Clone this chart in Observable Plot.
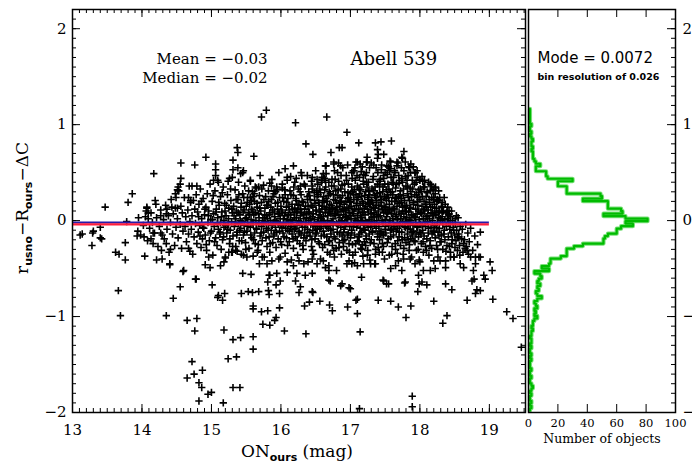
<!DOCTYPE html>
<html><head><meta charset="utf-8">
<script src="https://cdn.jsdelivr.net/npm/d3@7"></script>
<script src="https://cdn.jsdelivr.net/npm/@observablehq/plot@0.6"></script>
<style>
body{margin:0;background:#fff}
#chart{position:relative;width:692px;height:466px;overflow:hidden;background:#fff}
#chart svg{position:absolute;top:0}
</style></head><body><div id="chart"></div>
<script>
// ---------- data ----------
const xMajor = [13, 14, 15, 16, 17, 18, 19];
const yMajor = [-2, -1, 0, 1, 2];
const countTicks = [0, 20, 40, 60, 80, 100];
const meanValue = -0.03;
const medianValue = -0.02;
const modeValue = 0.0072;
const binWidth = 0.026;
const meanLineRange = [13, 19];
const firstBinEdge = -1.9818;
const clusterName = "Abell 539";

// histogram counts, bins of 0.026 from -1.98 upward
const binCounts = [
  1,2,1,2,1,1,2,1,2,3,2,1,1,2,1,1,2,1,1,1,2,1,2,1,1,2,1,2,2,1,2,2,3,2,3,
  3,4,6,4,5,4,6,5,4,6,9,6,5,7,6,8,6,7,9,8,4,14,
  9,14,15,15,22,26,26,26,31,37,51,51,52,54,60,60,63,71,66,
  81,66,51,64,63,54,54,54,37,50,49,26,26,26,20,20,30,13,12,12,
  5,5,8,5,4,3,3,3,2,3,2,2,3,2,1,2,1,1,2,1,1,1,1,1,1
];

// individually readable (outlying) points: [mag, residual]
const sparsePoints = [
  [15.72,1.08],[15.79,1.15],[16.21,1.02],[16.66,1.08],[16.95,0.92],[16.36,0.80],[16.46,0.69],[16.72,0.71],[16.84,0.76],[16.88,0.76],
  [15.37,0.76],[15.38,0.71],[15.31,0.63],[14.92,0.66],[15.61,0.67],[15.06,0.59],[15.06,0.53],[14.56,0.60],[14.76,0.58],[14.17,0.49],
  [15.06,0.47],[15.31,0.53],[15.38,0.55],[15.45,0.50],[13.86,0.28],[13.80,0.19],[13.47,0.14],[14.20,0.17],[14.07,0.13],[14.09,0.08],
  [14.56,0.44],[14.55,0.38],[13.78,-0.01],[13.40,-0.07],[13.30,-0.11],[13.14,-0.14],
  [17.12,0.81],[17.36,0.81],[17.44,0.82],[17.59,0.83],[17.39,0.74],[17.40,0.69],[17.48,0.69],[17.77,0.72],[17.75,0.65],[17.87,0.59],
  [17.96,0.52],[18.22,0.34],[18.32,0.19],[18.42,0.07],[18.51,0.02],[17.24,0.66],[17.23,0.61],[17.10,0.61],[16.64,0.57],[16.76,0.59],[16.83,0.60],
  [15.97,0.50],[16.06,0.54],[16.18,0.57],[16.29,0.50],[16.65,0.57],[14.52,0.35],[14.51,0.32],[14.48,0.28],[14.49,0.24],[14.72,0.36],[14.79,0.36],
  [14.07,0.14],[14.06,0.10],
  [15.46,0.52],[15.42,0.49],[15.30,0.45],[15.24,0.41],[15.03,0.42],[15.10,0.40],[14.67,0.24],[14.70,0.21],[15.56,0.42],[15.63,0.35],
  [15.68,0.35],[15.84,0.39],[15.90,0.31],[15.95,0.32],[16.02,0.34],[16.09,0.42],[16.14,0.46],[16.22,0.44],[16.28,0.36],[16.38,0.47],
  [16.45,0.45],[16.52,0.43],[16.59,0.42],
  [16.76,0.61],[16.86,0.57],[17.02,0.50],[17.05,0.52],[17.14,0.59],[17.24,0.61],[17.55,0.56],[17.58,0.61],[17.67,0.61],[17.74,0.66],
  [17.84,0.56],[17.93,0.50],[18.00,0.42],[18.05,0.35],[18.15,0.31],[18.20,0.24],[18.27,0.21],[18.32,0.14],[18.39,0.10],[16.61,0.49],[16.64,0.42],
  [13.11,-0.15],[13.28,-0.26],[13.40,-0.18],[13.42,-0.19],[13.76,-0.23],[13.62,-0.33],[13.67,-0.35],[13.76,-0.41],[13.66,-0.73],[13.69,-0.99],
  [14.04,-0.37],[14.16,-0.24],[14.21,-0.41],[14.29,-0.40],[14.40,-0.46],[14.28,-0.31],[14.35,-0.99],[14.45,-0.81],[14.55,-0.69],[14.59,-0.53],
  [14.67,-0.29],[14.69,-0.32],[14.78,-0.61],[14.65,-1.04],[14.79,-1.02],[14.76,-1.15],[14.72,-1.47],[14.65,-1.64],[14.75,-1.60],[14.87,-1.56],
  [14.82,-1.69],[14.86,-1.74],[14.82,-1.88],[14.95,-1.81],[15.00,-1.79],[15.17,-1.90],[15.31,-1.74],[15.41,-1.74],[15.24,-1.44],[15.36,-1.42],
  [15.31,-1.24],[15.42,-1.22],[15.60,-1.21],[15.60,-1.34],[15.18,-1.14],[15.01,-0.67],[15.10,-0.78],[15.16,-0.83],[15.19,-0.76],[14.98,-0.49],
  [15.43,-0.76],[15.53,-0.74],[15.68,-0.74],[15.83,-0.77],[15.98,-0.76],[15.60,-0.89],[15.60,-0.92],[15.72,-0.95],[15.74,-1.08],[15.81,-0.94],
  [15.84,-1.09],[15.91,-1.04],[15.93,-1.01],[15.98,-0.91],[16.05,-1.15],[16.36,-1.18],[16.34,-0.89],[16.41,-0.85],[16.46,-0.75],[16.56,-0.84],
  [16.70,-0.88],[16.74,-0.94],[16.96,-0.90],[16.86,-0.68],[16.69,-0.62],
  [17.14,-1.16],[17.10,-0.97],[17.08,-0.83],[17.10,-0.82],[16.98,-0.70],[17.40,-0.83],[17.58,-0.84],[17.69,-0.90],[17.87,-0.89],[17.80,-1.01],
  [17.47,-0.62],[17.52,-0.66],[17.78,-0.65],[17.97,-0.74],[17.99,-0.66],[18.10,-0.67],[18.20,-0.84],[18.33,-1.07],[18.39,-0.99],[18.37,-0.66],
  [18.46,-0.72],[18.68,-0.83],[18.80,-0.76],[18.82,-0.72],[18.87,-0.73],[19.05,-0.82],[18.75,-0.63],[18.78,-0.61],[18.92,-0.57],[18.94,-0.61],
  [19.01,-0.43],[19.04,-0.52],[18.77,-0.52],[18.80,-0.45],[18.85,-0.38],[19.25,-0.95],[19.34,-1.02],[19.46,-1.32],[17.89,-1.83],[17.89,-1.94],
  [17.13,-1.96],[17.16,-0.59],
  [18.56,-0.17],[18.63,-0.24],[18.65,-0.29],[18.73,-0.38],[18.80,-0.38],[18.87,-0.38],
  [14.91,-0.46],[15.09,-0.80],[15.45,-0.55],[15.57,-0.56],[15.69,-0.45],[15.81,-0.64],[15.83,-0.57],[15.93,-0.67],[16.26,-0.75],[16.45,-0.74],
  [14.96,-0.38],[15.13,-0.47],[15.18,-0.43],[15.20,-0.38],[15.30,-0.33],[15.35,-0.31],[13.29,-0.13],[13.95,0.03],[13.94,-0.11],[13.98,-0.15],
  [14.03,-0.17],[13.93,-0.16],[14.13,-0.19],[14.16,-0.13],[14.27,-0.13],[14.27,0.05],[14.35,0.07],[14.36,0.12],[14.43,0.14],[14.51,0.13],
  [14.35,-0.24],[14.41,-0.30],[14.40,-0.45],[14.60,-0.52],[14.77,-0.61],[15.56,0.24],[15.60,0.25],
  [16.64,-0.49],[16.69,-0.52],[16.80,-0.52],[16.71,-0.63],[16.88,-0.66],[17.00,-0.71],[16.95,-0.45],[17.02,-0.45],[17.10,-0.47],[17.19,-0.45],
  [17.29,-0.45],[17.36,-0.45],[17.48,-0.63],[17.55,-0.66],[17.58,-0.50],[17.65,-0.47],[17.74,-0.52],[17.79,-0.64],[17.86,-0.40],[17.93,-0.45],
  [18.00,-0.43],[18.05,-0.52],[17.98,-0.57],[18.03,-0.64],[18.15,-0.52],[18.22,-0.50],[18.29,-0.42],[18.37,-0.49],[18.44,-0.38],[18.49,-0.38],
  [18.58,-0.45],[18.63,-0.49],[18.68,-0.31],[18.70,-0.35],
  [15.25,-0.33],[15.37,-0.32],[15.46,-0.36],[15.51,-0.38],[15.66,-0.33],[15.73,-0.38],[15.80,-0.45],[15.87,-0.42],[15.99,-0.38],[16.09,-0.43],
  [16.18,-0.47],[16.26,-0.42],[16.33,-0.45],[16.45,-0.40],[16.52,-0.45],[16.61,-0.42],[16.69,-0.47],
  [15.84,-0.57],[15.94,-0.55],[16.09,-0.54],[16.23,-0.55],[16.35,-0.57],[16.45,-0.55],[15.59,-0.75],[15.82,-0.73],[15.99,-0.63],[16.21,-0.63],[16.28,-0.69]
];

// dense core of the cloud (estimated positions): [mag, residual]
const densePoints = [
  [14.02,-0.05],[14.05,0.04],[14.08,-0.21],[14.09,0.02],[14.11,-0.08],[14.13,0.08],[14.15,-0.02],[14.18,-0.13],[14.19,0.21],
  [14.21,0.03],[14.23,-0.27],[14.25,-0.06],[14.27,0.11],[14.29,-0.15],[14.31,0.01],[14.32,-0.19],[14.34,0.16],[14.36,-0.09],[14.38,0.05],[14.39,-0.33],
  [14.41,-0.02],[14.42,0.22],[14.44,-0.14],[14.45,0.07],[14.47,-0.26],[14.48,0.13],[14.49,-0.07],
  [14.51,0.02],[14.52,-0.18],[14.53,0.31],[14.55,-0.04],[14.56,0.15],[14.57,-0.29],[14.58,0.08],[14.59,-0.11],
  [14.61,0.24],[14.62,-0.06],[14.63,0.04],[14.64,-0.22],[14.66,0.11],[14.67,-0.14],[14.68,0.36],[14.69,-0.01],[14.70,0.19],
  [14.71,-0.09],[14.72,0.05],[14.73,-0.35],[14.74,0.21],[14.75,-0.17],[14.76,0.12],[14.77,-0.03],[14.78,0.27],[14.79,-0.24],
  [14.80,0.09],[14.81,-0.12],[14.82,0.17],[14.83,-0.05],[14.84,0.33],[14.85,-0.28],[14.86,0.02],[14.87,-0.19],[14.88,0.23],[14.89,-0.08],
  [14.90,0.06],[14.91,-0.15],[14.92,0.14],[14.93,-0.31],[14.94,0.28],[14.95,-0.02],[14.96,0.10],[14.97,-0.21],[14.98,0.38],[14.99,0.01],
  [15.00,-0.11],[15.01,0.20],[15.02,-0.36],[15.03,0.07],[15.04,-0.06],[15.05,0.31],[15.06,-0.18],[15.07,0.12],[15.08,-0.26],[15.09,0.03],[15.09,0.42],[15.10,-0.09],
  [15.11,0.16],[15.12,-0.14],[15.13,0.25],[15.13,-0.02],[15.14,-0.30],[15.15,0.09],[15.16,-0.20],[15.17,0.35],[15.18,0.00],[15.18,-0.07],[15.19,0.18],[15.20,-0.39],
  [15.21,0.05],[15.22,-0.13],[15.23,0.27],[15.24,-0.04],[15.25,0.13],[15.26,-0.24],[15.26,0.44],[15.27,-0.10],[15.28,0.21],[15.29,-0.01],[15.29,-0.33],[15.30,0.08],
  [15.31,-0.16],[15.32,0.15],[15.33,-0.06],[15.34,0.32],[15.35,0.02],[15.35,-0.27],[15.36,0.10],[15.37,-0.12],[15.38,0.22],[15.39,-0.03],[15.39,0.40],[15.40,-0.21],
  [15.41,0.06],[15.42,-0.08],[15.43,0.18],[15.43,-0.35],[15.44,-0.01],[15.45,0.28],[15.46,-0.15],[15.47,0.11],[15.47,-0.05],[15.48,0.36],[15.49,-0.23],[15.50,0.03],[15.50,0.15],
  [15.51,-0.11],[15.52,0.24],[15.52,-0.02],[15.53,0.08],[15.54,-0.29],[15.55,0.17],[15.56,-0.07],[15.56,0.41],[15.57,0.01],[15.58,-0.18],[15.58,0.12],[15.59,0.30],[15.60,-0.04],[15.60,-0.37],
  [15.61,0.06],[15.62,-0.13],[15.62,0.20],[15.63,-0.24],[15.64,0.00],[15.65,0.34],[15.65,-0.09],[15.66,0.14],[15.67,-0.31],[15.68,0.07],[15.68,-0.03],[15.69,0.26],[15.70,-0.16],[15.70,0.47],
  [15.71,0.10],[15.72,-0.06],[15.72,0.19],[15.73,-0.21],[15.74,0.03],[15.75,0.37],[15.75,-0.12],[15.76,-0.38],[15.77,0.13],[15.77,-0.01],[15.78,0.25],[15.79,-0.08],[15.79,0.05],[15.80,-0.27],
  [15.81,0.16],[15.82,-0.04],[15.82,0.31],[15.83,-0.17],[15.84,0.08],[15.84,-0.33],[15.85,0.00],[15.86,0.22],[15.86,-0.10],[15.87,0.43],[15.88,-0.23],[15.88,0.11],[15.89,-0.02],[15.90,0.28],[15.90,-0.14],
  [15.91,0.04],[15.92,-0.07],[15.92,0.18],[15.93,-0.28],[15.94,0.35],[15.94,-0.01],[15.95,0.12],[15.96,-0.19],[15.96,0.07],[15.97,-0.40],[15.98,0.24],[15.98,-0.11],[15.99,0.02],[16.00,0.15],[16.00,-0.05],
  [16.01,-0.25],[16.02,0.09],[16.02,0.38],[16.03,-0.13],[16.04,0.20],[16.04,-0.03],[16.05,0.05],[16.06,-0.34],[16.06,0.27],[16.07,-0.08],[16.08,0.14],[16.08,-0.18],[16.09,0.01],[16.09,0.45],[16.10,-0.10],[16.10,0.23],
  [16.11,-0.02],[16.12,0.11],[16.12,-0.22],[16.13,0.31],[16.14,-0.06],[16.14,0.06],[16.15,-0.41],[16.16,0.17],[16.16,-0.14],[16.17,0.00],[16.18,0.26],[16.18,-0.29],[16.19,0.08],[16.19,-0.09],[16.20,0.40],[16.20,0.13],
  [16.21,-0.17],[16.22,0.03],[16.22,0.21],[16.23,-0.05],[16.24,-0.36],[16.24,0.10],[16.25,0.33],[16.26,-0.11],[16.26,0.16],[16.27,-0.24],[16.28,0.05],[16.28,-0.01],[16.29,0.27],[16.29,-0.15],[16.30,0.47],[16.30,0.08],
  [16.31,-0.07],[16.32,0.19],[16.32,-0.30],[16.33,0.02],[16.34,0.12],[16.34,-0.13],[16.35,0.36],[16.36,-0.02],[16.36,-0.21],[16.37,0.07],[16.38,0.25],[16.38,-0.09],[16.39,0.15],[16.39,-0.43],[16.40,0.00],[16.40,0.30],[16.33,-0.18],
  [16.41,0.09],[16.42,-0.16],[16.42,0.22],[16.43,-0.04],[16.44,0.41],[16.44,-0.27],[16.45,0.04],[16.46,0.14],[16.46,-0.10],[16.47,-0.35],[16.48,0.29],[16.48,0.01],[16.49,-0.19],[16.49,0.18],[16.50,-0.06],[16.50,0.52],[16.45,0.33],
  [16.51,0.10],[16.51,-0.13],[16.52,0.25],[16.53,-0.03],[16.53,0.38],[16.54,-0.22],[16.55,0.06],[16.55,0.16],[16.56,-0.08],[16.57,-0.40],[16.57,0.29],[16.58,0.02],[16.58,-0.16],[16.59,0.12],[16.59,0.45],[16.60,-0.28],[16.60,0.21],[16.54,-0.01],[16.56,0.33],[16.58,-0.06],
  [16.61,0.04],[16.61,-0.11],[16.62,0.19],[16.63,-0.25],[16.63,0.32],[16.64,0.08],[16.64,-0.04],[16.65,0.49],[16.66,-0.17],[16.66,0.14],[16.67,0.00],[16.67,-0.33],[16.68,0.26],[16.68,-0.08],[16.69,0.10],[16.69,0.40],[16.70,-0.21],[16.70,0.17],[16.62,-0.02],[16.65,0.23],
  [16.71,-0.05],[16.71,0.28],[16.72,0.07],[16.72,-0.14],[16.73,0.36],[16.74,-0.26],[16.74,0.13],[16.75,0.02],[16.75,-0.09],[16.76,0.22],[16.77,0.52],[16.77,-0.38],[16.78,0.05],[16.78,-0.19],[16.79,0.31],[16.79,0.11],[16.80,-0.03],[16.80,0.18],[16.73,-0.01],[16.76,-0.31],[16.78,0.43],
  [16.81,0.09],[16.81,-0.12],[16.82,0.26],[16.83,-0.02],[16.83,0.41],[16.84,-0.23],[16.84,0.15],[16.85,0.03],[16.86,-0.07],[16.86,0.33],[16.87,-0.35],[16.87,0.20],[16.88,0.00],[16.88,-0.16],[16.89,0.12],[16.89,0.55],[16.90,-0.27],[16.90,0.06],[16.85,0.24],[16.82,-0.05],[16.88,0.37],
  [16.91,0.17],[16.91,-0.09],[16.92,0.30],[16.92,-0.20],[16.93,0.04],[16.94,0.47],[16.94,-0.03],[16.95,0.13],[16.95,-0.31],[16.96,0.23],[16.96,0.01],[16.97,-0.13],[16.97,0.38],[16.98,0.08],[16.98,-0.42],[16.99,0.19],[16.99,-0.06],[17.00,0.28],[17.00,-0.18],[16.93,0.11],[16.96,0.58],[16.98,-0.24],
  [17.01,0.02],[17.01,0.15],[17.02,-0.10],[17.02,0.35],[17.03,-0.25],[17.04,0.07],[17.04,0.52],[17.05,-0.04],[17.05,0.22],[17.06,-0.15],[17.06,0.12],[17.07,0.42],[17.07,-0.33],[17.08,0.00],[17.08,0.27],[17.09,-0.07],[17.09,0.18],[17.10,-0.21],[17.10,0.05],[17.03,0.30],[17.06,-0.44],[17.08,0.61],[17.10,0.36],
  [17.11,-0.02],[17.11,0.24],[17.12,0.10],[17.12,-0.17],[17.13,0.45],[17.14,-0.08],[17.14,0.16],[17.15,-0.29],[17.15,0.32],[17.16,0.03],[17.16,-0.12],[17.17,0.20],[17.17,0.56],[17.18,-0.37],[17.18,0.08],[17.19,-0.05],[17.19,0.38],[17.20,0.13],[17.20,-0.22],[17.13,0.28],[17.15,0.00],[17.17,-0.25],[17.19,0.48],
  [17.21,0.06],[17.21,-0.10],[17.22,0.30],[17.22,0.15],[17.23,-0.19],[17.23,0.50],[17.24,-0.03],[17.25,0.22],[17.25,-0.31],[17.26,0.09],[17.26,0.40],[17.27,-0.14],[17.27,0.01],[17.28,0.27],[17.28,-0.41],[17.29,0.18],[17.29,-0.06],[17.30,0.60],[17.30,0.11],[17.22,-0.26],[17.24,0.35],[17.26,0.24],[17.28,-0.01],[17.30,-0.20],
  [17.31,0.03],[17.31,0.33],[17.32,-0.12],[17.32,0.19],[17.33,0.46],[17.34,-0.24],[17.34,0.08],[17.35,-0.04],[17.35,0.26],[17.36,0.13],[17.36,-0.35],[17.37,0.55],[17.37,-0.08],[17.38,0.21],[17.38,0.00],[17.39,-0.17],[17.39,0.38],[17.40,0.10],[17.40,-0.28],[17.33,0.31],[17.35,-0.45],[17.37,0.16],[17.39,0.65],[17.34,0.04],
  [17.41,0.16],[17.41,-0.06],[17.42,0.29],[17.42,-0.20],[17.43,0.05],[17.43,0.43],[17.44,-0.11],[17.45,0.22],[17.45,0.58],[17.46,-0.33],[17.46,0.12],[17.47,-0.02],[17.47,0.35],[17.48,0.08],[17.48,-0.15],[17.49,0.25],[17.49,-0.40],[17.50,0.01],[17.50,0.50],[17.42,0.36],[17.44,0.19],[17.46,-0.24],[17.48,0.44],[17.50,-0.09],
  [17.51,0.14],[17.51,-0.13],[17.52,0.32],[17.52,0.04],[17.53,-0.23],[17.53,0.48],[17.54,0.10],[17.55,-0.05],[17.55,0.24],[17.56,-0.36],[17.56,0.17],[17.57,0.62],[17.57,0.00],[17.58,-0.17],[17.58,0.29],[17.59,0.07],[17.59,-0.09],[17.60,0.40],[17.60,-0.27],[17.52,0.21],[17.54,0.38],[17.56,-0.02],[17.58,0.54],[17.60,0.12],
  [17.61,0.02],[17.61,0.27],[17.62,-0.15],[17.62,0.45],[17.63,0.11],[17.64,-0.06],[17.64,0.20],[17.65,-0.30],[17.65,0.34],[17.66,0.06],[17.66,-0.11],[17.67,0.57],[17.67,0.15],[17.68,-0.21],[17.68,0.01],[17.69,0.25],[17.69,-0.42],[17.70,0.09],[17.70,0.39],[17.62,-0.02],[17.64,0.50],[17.66,0.24],[17.68,-0.08],[17.70,-0.17],
  [17.71,0.18],[17.71,-0.05],[17.72,0.31],[17.72,-0.26],[17.73,0.07],[17.74,0.44],[17.74,-0.12],[17.75,0.14],[17.75,-0.01],[17.76,0.26],[17.76,-0.35],[17.77,0.04],[17.77,0.52],[17.78,-0.18],[17.78,0.21],[17.79,0.10],[17.79,-0.07],[17.80,0.36],[17.80,-0.23],[17.73,0.23],[17.75,0.40],[17.77,-0.29],[17.79,0.61],
  [17.81,0.03],[17.81,0.16],[17.82,-0.14],[17.82,0.28],[17.83,0.47],[17.84,-0.03],[17.84,0.09],[17.85,-0.25],[17.85,0.21],[17.86,0.34],[17.86,-0.09],[17.87,0.00],[17.87,0.13],[17.88,-0.38],[17.88,0.25],[17.89,-0.16],[17.89,0.42],[17.90,0.06],[17.90,-0.05],[17.83,-0.20],[17.85,0.55],[17.87,0.30],
  [17.91,0.19],[17.91,-0.11],[17.92,0.04],[17.92,0.38],[17.93,-0.22],[17.94,0.12],[17.94,-0.02],[17.95,0.27],[17.95,-0.31],[17.96,0.07],[17.96,0.45],[17.97,-0.07],[17.97,0.16],[17.98,-0.17],[17.98,0.32],[17.99,0.01],[17.99,-0.41],[18.00,0.22],[18.00,-0.12],[17.93,0.50],[17.97,0.24],
  [18.01,0.08],[18.01,-0.04],[18.02,0.30],[18.02,-0.24],[18.03,0.15],[18.04,-0.10],[18.04,0.41],[18.05,0.02],[18.05,-0.33],[18.06,0.20],[18.06,-0.16],[18.07,0.10],[18.07,0.35],[18.08,-0.06],[18.08,-0.27],[18.09,0.25],[18.09,0.04],[18.10,-0.19],[18.10,0.14],[18.03,0.46],
  [18.11,-0.01],[18.11,0.29],[18.12,-0.13],[18.12,0.11],[18.13,-0.36],[18.14,0.19],[18.14,0.02],[18.15,-0.21],[18.15,0.38],[18.16,-0.07],[18.16,0.08],[18.17,0.24],[18.17,-0.29],[18.18,0.00],[18.18,0.14],[18.19,-0.11],[18.19,0.32],[18.20,-0.42],[18.20,0.05],
  [18.21,0.17],[18.21,-0.05],[18.22,-0.18],[18.22,0.28],[18.23,0.06],[18.24,-0.26],[18.24,0.13],[18.25,-0.02],[18.25,0.22],[18.26,-0.12],[18.26,-0.38],[18.27,0.03],[18.27,0.31],[18.28,-0.08],[18.28,0.10],[18.29,-0.22],[18.30,0.00],
  [18.31,0.15],[18.31,-0.15],[18.32,0.04],[18.33,-0.04],[18.33,-0.30],[18.34,0.10],[18.35,-0.10],[18.35,0.24],[18.36,-0.20],[18.36,0.01],[18.37,-0.42],[18.38,0.08],[18.38,-0.06],[18.39,-0.26],[18.40,0.14],
  [18.41,-0.02],[18.41,-0.17],[18.42,0.10],[18.43,-0.09],[18.44,-0.33],[18.44,0.04],[18.45,-0.13],[18.46,-0.24],[18.47,0.00],[18.48,-0.07],[18.49,-0.38],[18.50,-0.15],
  [18.51,-0.04],[18.52,-0.21],[18.53,-0.10],[18.54,-0.31],[18.55,0.03],[18.56,-0.14],[18.57,-0.26],[18.58,-0.06],[18.60,-0.19],
  [18.61,-0.09],[18.62,-0.33],[18.64,-0.20],[18.66,-0.04],[18.67,-0.27],[18.69,-0.13],
  [18.71,-0.22],[18.73,-0.08],[18.76,-0.31],[18.79,-0.16],[18.83,-0.25],[18.87,-0.12]
];

// second layer of the dense core (estimated positions): [mag, residual]
const densePoints2 = [
  [14.815,0.04],[14.835,-0.16],[14.855,0.20],[14.875,-0.07],[14.905,0.12],[14.925,-0.25],[14.955,0.05],[14.985,-0.13],
  [15.015,0.01],[15.025,0.26],[15.045,-0.22],[15.065,0.09],[15.085,-0.03],[15.105,0.19],[15.125,-0.12],[15.145,0.04],[15.155,0.29],[15.175,-0.17],[15.195,0.10],[15.205,-0.05],
  [15.215,0.16],[15.235,-0.09],[15.245,0.02],[15.265,-0.19],[15.275,0.33],[15.295,0.12],[15.305,-0.27],[15.325,0.05],[15.345,-0.02],[15.355,0.22],[15.365,-0.15],[15.385,0.08],[15.395,0.27],[15.405,-0.10],
  [15.415,0.00],[15.425,0.14],[15.435,-0.21],[15.455,0.09],[15.465,0.24],[15.475,-0.12],[15.485,0.02],[15.495,-0.30],[15.515,0.19],[15.525,-0.06],[15.535,0.31],[15.545,0.06],[15.565,-0.15],[15.575,0.21],[15.585,-0.02],[15.595,0.10],
  [15.605,-0.20],[15.615,0.28],[15.635,0.08],[15.645,-0.08],[15.655,0.18],[15.675,-0.25],[15.685,0.03],[15.695,0.13],[15.715,-0.13],[15.725,0.33],[15.735,0.00],[15.745,-0.03],[15.755,0.22],[15.765,0.06],[15.785,-0.18],[15.795,0.16],
  [15.805,0.02],[15.815,-0.10],[15.825,0.20],[15.835,0.06],[15.845,-0.24],[15.855,0.14],[15.865,0.36],[15.875,-0.05],[15.885,0.25],[15.895,-0.16],[15.905,0.09],[15.915,0.00],[15.925,0.30],[15.935,-0.12],[15.955,0.19],[15.965,-0.03],[15.975,0.07],[15.995,-0.22],
  [16.005,0.11],[16.015,-0.07],[16.025,0.24],[16.035,0.02],[16.045,-0.17],[16.055,0.32],[16.065,0.08],[16.075,-0.02],[16.085,0.19],[16.095,-0.26],[16.105,0.06],[16.115,0.15],[16.125,-0.11],[16.135,0.01],[16.145,0.27],[16.155,-0.04],[16.165,0.12],[16.175,-0.19],[16.185,0.35],[16.195,0.03],
  [16.205,-0.08],[16.215,0.23],[16.225,0.09],[16.235,-0.21],[16.245,0.17],[16.255,0.00],[16.265,-0.13],[16.275,0.30],[16.285,0.12],[16.295,-0.04],[16.305,0.20],[16.315,-0.26],[16.325,0.06],[16.335,0.38],[16.345,-0.07],[16.355,0.15],[16.365,0.03],[16.375,-0.16],[16.385,0.22],[16.395,0.09],
  [16.405,-0.12],[16.415,0.26],[16.425,0.02],[16.435,0.16],[16.445,-0.20],[16.455,0.36],[16.465,0.07],[16.475,-0.05],[16.485,0.21],[16.495,-0.14],[16.505,0.11],[16.515,0.31],[16.525,-0.09],[16.535,0.03],[16.545,0.19],[16.555,-0.24],[16.565,0.09],[16.575,-0.02],[16.585,0.40],[16.595,0.15],[16.455,-0.31],[16.535,0.27],
  [16.605,0.00],[16.615,0.25],[16.625,-0.15],[16.635,0.12],[16.645,0.35],[16.655,-0.06],[16.665,0.20],[16.675,0.05],[16.685,-0.22],[16.695,0.30],[16.705,0.09],[16.715,-0.10],[16.725,0.16],[16.735,0.43],[16.745,-0.02],[16.755,0.27],[16.765,-0.17],[16.775,0.07],[16.785,0.21],[16.795,-0.29],[16.625,0.44],[16.705,-0.35],[16.765,0.36],[16.745,0.12],
  [16.805,0.14],[16.815,-0.04],[16.825,0.32],[16.835,0.06],[16.845,-0.14],[16.855,0.19],[16.865,0.47],[16.875,-0.01],[16.885,0.26],[16.895,-0.21],[16.905,0.10],[16.915,0.38],[16.925,-0.06],[16.935,0.20],[16.945,0.03],[16.955,-0.15],[16.965,0.29],[16.975,0.13],[16.985,-0.33],[16.995,0.05],[16.835,-0.28],[16.865,0.10],[16.905,-0.12],[16.945,0.42],[16.975,0.24],[16.815,0.50],
  [17.005,0.20],[17.015,-0.13],[17.025,0.44],[17.035,0.10],[17.045,-0.06],[17.055,0.32],[17.065,0.02],[17.075,-0.24],[17.085,0.16],[17.095,0.47],[17.105,-0.03],[17.115,0.12],[17.125,0.34],[17.135,-0.14],[17.145,0.05],[17.155,0.25],[17.165,-0.30],[17.175,0.09],[17.185,0.41],[17.195,-0.09],[17.035,-0.36],[17.065,0.55],[17.095,0.22],[17.125,-0.22],[17.155,0.51],[17.185,0.18],[17.045,0.27],[17.175,-0.01],
  [17.205,0.26],[17.215,0.00],[17.225,-0.16],[17.235,0.40],[17.245,0.12],[17.255,-0.07],[17.265,0.31],[17.275,0.55],[17.285,-0.23],[17.295,0.07],[17.305,0.21],[17.315,-0.11],[17.325,0.43],[17.335,0.14],[17.345,-0.02],[17.355,0.35],[17.365,-0.30],[17.375,0.06],[17.385,0.28],[17.395,0.50],[17.215,0.47],[17.245,-0.36],[17.275,0.17],[17.305,-0.04],[17.335,0.58],[17.365,0.24],[17.395,-0.14],[17.255,0.19],
  [17.405,0.04],[17.415,0.41],[17.425,-0.13],[17.435,0.25],[17.445,0.53],[17.455,0.00],[17.465,0.30],[17.475,-0.27],[17.485,0.15],[17.495,0.38],[17.505,-0.06],[17.515,0.23],[17.525,0.57],[17.535,0.08],[17.545,-0.19],[17.555,0.33],[17.565,0.12],[17.575,-0.10],[17.585,0.45],[17.595,0.20],[17.415,-0.33],[17.445,0.15],[17.475,0.47],[17.505,0.10],[17.535,0.27],[17.565,0.52],[17.595,-0.35],[17.455,-0.15],
  [17.605,0.30],[17.615,-0.09],[17.625,0.13],[17.635,0.52],[17.645,-0.24],[17.655,0.04],[17.665,0.38],[17.675,-0.03],[17.685,0.18],[17.695,0.47],[17.705,-0.12],[17.715,0.27],[17.725,0.02],[17.735,0.55],[17.745,-0.20],[17.755,0.10],[17.765,0.33],[17.775,-0.06],[17.785,0.15],[17.795,0.46],[17.615,0.38],[17.645,0.23],[17.675,-0.34],[17.705,0.42],[17.735,0.19],[17.765,-0.40],[17.795,-0.01],[17.685,0.60],
  [17.805,0.09],[17.815,0.42],[17.825,-0.08],[17.835,0.24],[17.845,-0.31],[17.855,0.13],[17.865,0.50],[17.875,0.06],[17.885,-0.12],[17.895,0.33],[17.905,0.17],[17.915,-0.21],[17.925,0.27],[17.935,0.03],[17.945,0.40],[17.955,-0.06],[17.965,0.20],[17.975,-0.30],[17.985,0.10],[17.995,0.43],[17.825,0.35],[17.865,-0.19],[17.905,0.56],[17.945,-0.14],[17.985,0.29],[17.845,0.01],
  [18.005,0.33],[18.015,-0.14],[18.025,0.07],[18.035,0.25],[18.045,-0.22],[18.055,0.12],[18.065,0.42],[18.075,-0.02],[18.085,0.17],[18.095,-0.31],[18.105,0.30],[18.115,0.05],[18.125,-0.08],[18.135,0.22],[18.145,-0.26],[18.155,0.14],[18.165,0.36],[18.175,-0.14],[18.185,0.07],[18.195,0.22],[18.035,-0.05],[18.125,0.40],
  [18.205,-0.12],[18.215,0.10],[18.225,0.35],[18.235,-0.07],[18.245,0.20],[18.255,-0.30],[18.265,0.08],[18.275,-0.16],[18.285,0.24],[18.295,0.02],[18.305,-0.22],[18.325,0.09],[18.345,-0.14],[18.365,0.17],[18.375,-0.32],[18.395,0.02],
  [18.415,0.06],[18.425,-0.27],[18.435,-0.04],[18.455,0.10],[18.465,-0.20],[18.485,-0.10],[18.505,-0.28],[18.525,0.05],[18.545,-0.17],[18.575,-0.36]
];

// ---------- layout ----------
const H = 466, mTop = 9, mBottom = 54;
const frameH = H - mTop - mBottom;
const serif = "DejaVu Serif";
const sans = "DejaVu Sans";
const yDomain = [-2, 2.2];
const xMinor = d3.range(130, 196).map(d => d / 10);
const yMinor = d3.range(-20, 23).map(d => d / 10);
const points = sparsePoints.concat(densePoints, densePoints2);
const intFmt = d3.format("d");

// left panel
const leftW = 527, leftML = 72, leftMR = 2;
const leftFW = leftW - leftML - leftMR;
const left = Plot.plot({
  width: leftW, height: H,
  marginLeft: leftML, marginRight: leftMR, marginTop: mTop, marginBottom: mBottom,
  x: {domain: [13, 19.52], axis: null},
  y: {domain: yDomain, axis: null},
  style: {fontFamily: serif, background: "transparent", color: "black"},
  marks: [
    Plot.dot(points, {x: d => d[0], y: d => d[1], symbol: "plus", r: 2.5, stroke: "black", strokeWidth: 1.6}),
    Plot.ruleY([medianValue], {x1: meanLineRange[0], x2: meanLineRange[1], stroke: "#2a1aa8", strokeWidth: 2}),
    Plot.ruleY([meanValue], {x1: meanLineRange[0], x2: meanLineRange[1], stroke: "#ff1e3c", strokeWidth: 2.2, dy: 1}),
    Plot.ruleX(xMinor, {insetTop: frameH - 4, strokeWidth: 1}),
    Plot.ruleX(xMinor, {insetBottom: frameH - 4, strokeWidth: 1}),
    Plot.ruleX(xMajor, {insetTop: frameH - 8, strokeWidth: 1}),
    Plot.ruleX(xMajor, {insetBottom: frameH - 8, strokeWidth: 1}),
    Plot.ruleY(yMinor, {insetRight: leftFW - 4, strokeWidth: 1}),
    Plot.ruleY(yMinor, {insetLeft: leftFW - 4, strokeWidth: 1}),
    Plot.ruleY(yMajor, {insetRight: leftFW - 8, strokeWidth: 1}),
    Plot.ruleY(yMajor, {insetLeft: leftFW - 8, strokeWidth: 1}),
    Plot.frame({strokeWidth: 1.5}),
    Plot.axisX(xMajor, {anchor: "bottom", tickSize: 0, tickPadding: 12, label: null, fontSize: 15, tickFormat: intFmt}),
    Plot.axisY(yMajor, {anchor: "left", tickSize: 0, tickPadding: 6, label: null, fontSize: 15, tickFormat: intFmt}),
    Plot.text([`Mean = ${d3.format(".2f")(meanValue)}`], {frameAnchor: "top-left", dx: 195, dy: 44, textAnchor: "end", fontSize: 15, fontFamily: serif}),
    Plot.text([`Median = ${d3.format(".2f")(medianValue)}`], {frameAnchor: "top-left", dx: 195, dy: 63, textAnchor: "end", fontSize: 15, fontFamily: serif}),
    Plot.text([clusterName], {frameAnchor: "top-left", dx: 278, dy: 43, textAnchor: "start", fontSize: 18, fontFamily: serif})
  ]
});
left.style.left = "0px";

// axis titles with subscripts
const ls = d3.select(left);
const xt = ls.append("text").attr("x", 297).attr("y", 457).attr("text-anchor", "middle")
  .attr("font-family", serif).attr("font-size", 17).attr("fill", "black");
xt.append("tspan").text("ON");
xt.append("tspan").attr("dy", 4).attr("font-size", 11).attr("font-weight", "bold").attr("font-family", sans).text("ours");
xt.append("tspan").attr("dy", -4).text(" (mag)");
const yt = ls.append("text").attr("transform", "translate(28,208) rotate(-90)").attr("text-anchor", "middle")
  .attr("font-family", serif).attr("font-size", 17).attr("fill", "black");
yt.append("tspan").text("r");
yt.append("tspan").attr("dy", 4).attr("font-size", 11).attr("font-weight", "bold").attr("font-family", sans).text("usno");
yt.append("tspan").attr("dy", -4).text("\u2212R");
yt.append("tspan").attr("dy", 4).attr("font-size", 11).attr("font-weight", "bold").attr("font-family", sans).text("ours");
yt.append("tspan").attr("dy", -4).text("\u2212\u0394C");

// right panel: histogram
const steps = binCounts.flatMap((c, k) => {
  const lo = firstBinEdge + k * binWidth;
  return [{c, y: lo}, {c, y: lo + binWidth}];
});
const rightW = 165, rightML = 1, rightMR = 17;
const rightFW = rightW - rightML - rightMR;
const right = Plot.plot({
  width: rightW, height: H,
  marginLeft: rightML, marginRight: rightMR, marginTop: mTop, marginBottom: mBottom,
  x: {domain: [0, 100], axis: null},
  y: {domain: yDomain, axis: null},
  style: {fontFamily: serif, background: "transparent", color: "black", overflow: "visible"},
  marks: [
    Plot.line(steps, {x: "c", y: "y", stroke: "#7be07b", strokeWidth: 4.2}),
    Plot.line(steps, {x: "c", y: "y", stroke: "#00bb00", strokeWidth: 2.2}),
    Plot.ruleX(countTicks, {insetTop: frameH - 8, strokeWidth: 1}),
    Plot.ruleX(countTicks, {insetBottom: frameH - 8, strokeWidth: 1}),
    Plot.ruleY(yMinor, {insetLeft: rightFW - 4, strokeWidth: 1}),
    Plot.ruleY(yMajor, {insetLeft: rightFW - 8, strokeWidth: 1}),
    Plot.frame({strokeWidth: 1.5}),
    Plot.axisX(countTicks, {anchor: "bottom", tickSize: 0, tickPadding: 6, label: null, fontSize: 11.5, tickFormat: intFmt}),
    Plot.axisY(yMajor, {anchor: "right", tickSize: 0, tickPadding: 7, label: null, fontSize: 15, tickFormat: intFmt}),
    Plot.text([`Mode = ${modeValue}`], {frameAnchor: "top-left", dx: 9, dy: 43, textAnchor: "start", fontSize: 15, fontFamily: sans}),
    Plot.text([`bin resolution of ${binWidth}`], {frameAnchor: "top-left", dx: 9, dy: 64, textAnchor: "start", fontSize: 9.5, fontWeight: "bold", fontFamily: sans}),
    Plot.text(["Number of objects"], {frameAnchor: "bottom", dx: 0, dy: 30, textAnchor: "middle", fontSize: 12.5, fontFamily: serif})
  ]
});
right.style.left = "527px";

const chart = document.getElementById("chart");
chart.appendChild(left);
chart.appendChild(right);
</script></body></html>
